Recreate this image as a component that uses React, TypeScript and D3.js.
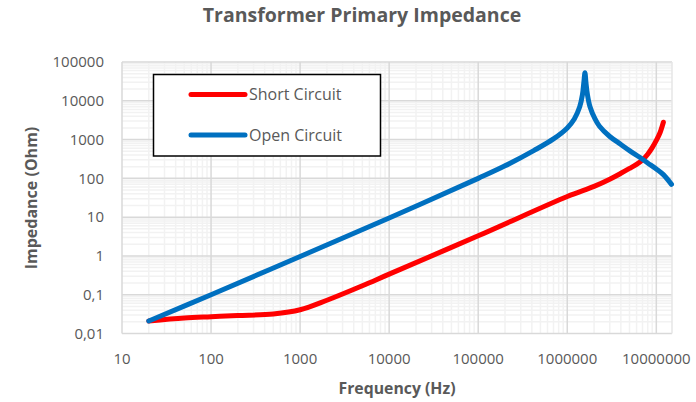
import React from "react";
import * as d3 from "d3";

const title = "Transformer Primary Impedance";
const xTitle = "Frequency (Hz)";
const yTitle = "Impedance (Ohm)";

const xTicks = [10, 100, 1000, 10000, 100000, 1000000, 10000000];
const yTicks = [0.01, 0.1, 1, 10, 100, 1000, 10000, 100000];
const yTickLabels = ["0,01", "0,1", "1", "10", "100", "1000", "10000", "100000"];

const shortFreq = [20, 50, 100, 200, 500, 1000, 2000, 5000, 10000, 100000, 1000000, 2000000, 3000000, 4000000, 5000000, 6000000, 7000000, 8000000, 9000000, 10000000, 11000000, 12000000];
const shortZ = [0.021, 0.025, 0.027, 0.029, 0.032, 0.041, 0.072, 0.17, 0.34, 3.3, 34, 62, 95, 135, 180, 230, 300, 420, 620, 950, 1500, 2800];

const openFreq = [20, 100, 1000, 10000, 100000, 200000, 420000, 700000, 1000000, 1200000, 1380000, 1480000, 1540000, 1580000, 1620000, 1680000, 1800000, 2050000, 2300000, 3000000, 4000000, 5000000, 6500000, 8000000, 10000000, 12000000, 14800000];
const openZ = [0.021, 0.1, 0.97, 9.5, 100, 210, 520, 1040, 2000, 3400, 7000, 14300, 32000, 53000, 30000, 15000, 7000, 3400, 2200, 1200, 750, 520, 350, 250, 175, 125, 70];

const seriesNames = ["Short Circuit", "Open Circuit"];
const seriesColors = ["#FF0000", "#0070C0"];

const W = 696, H = 402;
const M = { left: 122, right: 672, top: 62, bottom: 333.5 };
const FONT = "'Open Sans', sans-serif";
const TXT = "#595959";

export default function App() {
  const x = d3.scaleLog().domain([10, 15000000]).range([M.left, M.right]);
  const y = d3.scaleLog().domain([0.01, 100000]).range([M.bottom, M.top]);

  const minorX: number[] = [];
  for (let e = 1; e <= 7; e++) for (let k = 2; k <= 9; k++) {
    const v = k * Math.pow(10, e);
    if (v < 15000000) minorX.push(v);
  }
  const minorY: number[] = [];
  for (let e = -2; e <= 4; e++) for (let k = 2; k <= 9; k++) minorY.push(k * Math.pow(10, e));

  const line = d3.line<[number, number]>()
    .x(d => x(d[0]))
    .y(d => y(d[1]))
    .curve(d3.curveCatmullRom.alpha(0.5));

  const shortData = shortFreq.map((f, i) => [f, shortZ[i]] as [number, number]);
  const openData = openFreq.map((f, i) => [f, openZ[i]] as [number, number]);

  return (
    <svg width={W} height={H} style={{ position: "absolute", left: 0, top: 0, background: "#fff" }} fontFamily={FONT}>
      <rect x={0} y={0} width={W} height={H} fill="#fff" />
      <text x={362} y={22} textAnchor="middle" fontSize={19.5} fontWeight={700} fill={TXT}>{title}</text>

      {/* minor gridlines */}
      {minorX.map((v, i) => (
        <line key={"mx" + i} x1={x(v)} x2={x(v)} y1={M.top} y2={M.bottom} stroke="#F2F2F2" strokeWidth={1.5} />
      ))}
      {minorY.map((v, i) => (
        <line key={"my" + i} x1={M.left} x2={M.right} y1={y(v)} y2={y(v)} stroke="#F2F2F2" strokeWidth={1.5} />
      ))}
      {/* major gridlines */}
      {xTicks.map((v, i) => (
        <line key={"gx" + i} x1={x(v)} x2={x(v)} y1={M.top} y2={M.bottom} stroke="#D9D9D9" strokeWidth={1.5} />
      ))}
      {yTicks.map((v, i) => (
        <line key={"gy" + i} x1={M.left} x2={M.right} y1={y(v)} y2={y(v)} stroke="#D9D9D9" strokeWidth={1.5} />
      ))}
      <line x1={M.right} x2={M.right} y1={M.top} y2={M.bottom} stroke="#E6E6E6" strokeWidth={1.5} />

      {/* tick labels */}
      {yTicks.map((v, i) => (
        <text key={"yl" + i} x={104} y={y(v)} dy="0.35em" textAnchor="end" fontSize={15} fill={TXT}>{yTickLabels[i]}</text>
      ))}
      {xTicks.map((v, i) => (
        <text key={"xl" + i} x={x(v)} y={364} textAnchor="middle" fontSize={15} fill={TXT}>{String(v)}</text>
      ))}

      <text x={397} y={394} textAnchor="middle" fontSize={15.8} fontWeight={700} fill={TXT}>{xTitle}</text>
      <text transform={`translate(37,198) rotate(-90)`} textAnchor="middle" fontSize={16} fontWeight={700} fill={TXT}>{yTitle}</text>

      {/* series */}
      <path d={line(shortData) || ""} fill="none" stroke={seriesColors[0]} strokeWidth={5} strokeLinecap="round" strokeLinejoin="round" />
      <path d={line(openData) || ""} fill="none" stroke={seriesColors[1]} strokeWidth={5} strokeLinecap="round" strokeLinejoin="round" />

      {/* legend */}
      <rect x={153.5} y={74.5} width={227} height={81.5} fill="#fff" stroke="#000" strokeWidth={1.5} />
      {seriesNames.map((n, i) => (
        <g key={"lg" + i} transform={`translate(0, ${94.5 + i * 40.5})`}>
          <line x1={191} x2={245} y1={0} y2={0} stroke={seriesColors[i]} strokeWidth={5} strokeLinecap="round" />
          <text x={249} y={0} dy="0.35em" fontSize={16} fill={TXT}>{n}</text>
        </g>
      ))}
    </svg>
  );
}
